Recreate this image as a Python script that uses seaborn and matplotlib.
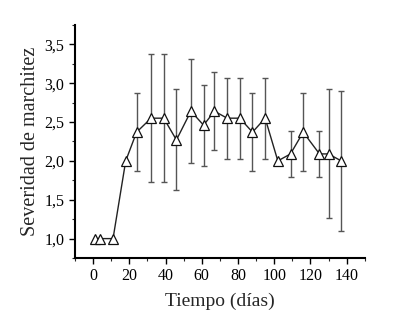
import matplotlib
matplotlib.use("Agg")
import matplotlib.pyplot as plt
import seaborn as sns
import pandas as pd
import numpy as np
from matplotlib.ticker import MultipleLocator, FuncFormatter

days = [1, 4, 11, 18, 24, 32, 39, 46, 54, 61, 67, 74, 81, 88, 95, 102, 109, 116, 125, 130, 137]
severity = [1.0, 1.0, 1.0, 2.0, 2.37, 2.55, 2.55, 2.27, 2.64, 2.46, 2.64, 2.55, 2.55, 2.37, 2.55,
            2.0, 2.09, 2.37, 2.09, 2.09, 2.0]
err = [0, 0, 0, 0, 0.5, 0.82, 0.82, 0.65, 0.67, 0.52, 0.5, 0.52, 0.52, 0.5, 0.52,
       0, 0.3, 0.5, 0.3, 0.83, 0.9]

df = pd.DataFrame({"Tiempo": days, "Severidad": severity, "err": err})

sns.set_style("ticks")
plt.rcParams['font.family'] = ['Liberation Serif', 'DejaVu Serif']

fig = plt.figure(figsize=(4.11, 3.12), dpi=100)
ax = fig.add_axes([0.1825, 0.173, 0.705, 0.747])

e_mask = df["err"] > 0
ax.errorbar(df["Tiempo"][e_mask], df["Severidad"][e_mask], yerr=df["err"][e_mask],
            fmt="none", ecolor="#555555", elinewidth=1.0, capsize=2.5, capthick=1.0, zorder=1)
sns.lineplot(data=df, x="Tiempo", y="Severidad", ax=ax, color="#222222", linewidth=1.0,
             marker="^", markersize=7, markerfacecolor="white", markeredgecolor="#111111",
             markeredgewidth=0.9, zorder=3)

ax.set_xlim(-10, 150)
ax.set_ylim(0.75, 3.75)
ax.xaxis.set_major_locator(MultipleLocator(20))
ax.xaxis.set_minor_locator(MultipleLocator(10))
ax.yaxis.set_major_locator(MultipleLocator(0.5))
ax.yaxis.set_minor_locator(MultipleLocator(0.25))
ax.yaxis.set_major_formatter(FuncFormatter(lambda v, p: f"{v:.1f}".replace(".", ",")))
ax.set_yticks([1.0, 1.5, 2.0, 2.5, 3.0, 3.5])
ax.set_xticks([0, 20, 40, 60, 80, 100, 120, 140])

for s in ["top", "right"]:
    ax.spines[s].set_visible(False)
for s in ["left", "bottom"]:
    ax.spines[s].set_linewidth(1.5)
    ax.spines[s].set_color("black")

ax.tick_params(which="major", direction="out", length=4, width=1.0, labelsize=11.5, colors="black")
ax.tick_params(which="minor", direction="out", length=2.5, width=0.8)
ax.set_xlabel("Tiempo (días)", fontsize=14, labelpad=6)
ax.set_ylabel("Severidad de marchitez", fontsize=14.5, labelpad=3)

fig.savefig("out.png", dpi=100)
